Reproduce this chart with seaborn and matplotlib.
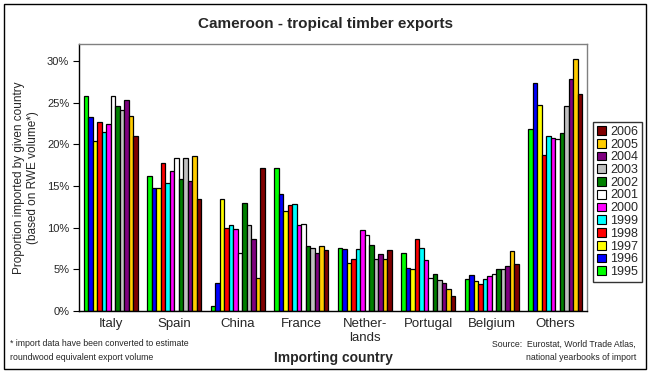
import matplotlib
matplotlib.use("Agg")
import matplotlib.pyplot as plt
import seaborn as sns
import pandas as pd
from matplotlib.patches import Rectangle, Patch

countries = ["Italy", "Spain", "China", "France", "Nether-\nlands", "Portugal", "Belgium", "Others"]
years = ["1995", "1996", "1997", "1998", "1999", "2000", "2001", "2002", "2003", "2004", "2005", "2006"]

# percentage of exports per importing country, one list per year
v1995 = [25.8, 16.2, 0.6, 17.2, 7.6, 7.0, 3.8, 21.8]
v1996 = [23.3, 14.8, 3.4, 14.1, 7.5, 5.2, 4.3, 27.3]
v1997 = [20.4, 14.8, 13.5, 12.0, 5.8, 5.0, 3.6, 24.7]
v1998 = [22.7, 17.8, 10.0, 12.7, 6.2, 8.6, 3.3, 18.7]
v1999 = [21.5, 15.4, 10.3, 12.8, 7.4, 7.6, 3.8, 21.0]
v2000 = [22.4, 16.8, 9.9, 10.3, 9.7, 6.1, 4.2, 20.8]
v2001 = [25.8, 18.4, 7.0, 10.5, 9.1, 4.0, 4.5, 20.6]
v2002 = [24.6, 15.8, 13.0, 7.8, 7.9, 4.4, 5.0, 21.3]
v2003 = [24.1, 18.4, 10.3, 7.6, 6.3, 3.7, 5.0, 24.6]
v2004 = [25.3, 15.6, 8.7, 7.0, 6.8, 3.4, 5.4, 27.8]
v2005 = [23.4, 18.6, 4.0, 7.8, 6.2, 2.7, 7.2, 30.2]
v2006 = [21.0, 13.5, 17.1, 7.3, 7.3, 1.8, 5.7, 26.0]
series = [v1995, v1996, v1997, v1998, v1999, v2000, v2001, v2002, v2003, v2004, v2005, v2006]

colors = ["#00FF00", "#0000FF", "#FFFF00", "#FF0000", "#00FFFF", "#FF00FF",
          "#FFFFFF", "#008000", "#C0C0C0", "#800080", "#FFCC00", "#800000"]

rows = []
for y, vals in zip(years, series):
    for c, v in zip(countries, vals):
        rows.append({"country": c, "year": y, "value": v})
df = pd.DataFrame(rows)

sns.set_theme(style="white")
plt.rcParams["font.family"] = ["Liberation Sans", "DejaVu Sans"]

fig = plt.figure(figsize=(6.51, 3.74), dpi=100)
ax = fig.add_axes([79/651, 1-311/374, (587-79)/651, (311-44)/374])

sns.barplot(data=df, x="country", y="value", hue="year", order=countries,
            hue_order=years, palette=colors, width=0.857, gap=0,
            edgecolor="black", linewidth=0.9, saturation=1, ax=ax, legend=False)

ax.set_ylim(0, 32.04)
ax.set_xlim(-0.5, len(countries)-0.5)
ax.set_yticks([0, 5, 10, 15, 20, 25, 30])
ax.set_yticklabels([f"{t}%" for t in [0, 5, 10, 15, 20, 25, 30]], fontsize=8)
ax.tick_params(axis="y", length=4, width=0.8, color="black", direction="out", pad=3, left=True)
ax.tick_params(axis="x", length=0, labelsize=9.5, pad=5)
ax.set_xlabel("")
ax.set_ylabel("Proportion imported by given country\n(based on RWE volume*)", fontsize=8.5, labelpad=6, linespacing=1.15)
for s in ["left", "bottom"]:
    ax.spines[s].set_color("black")
    ax.spines[s].set_linewidth(1)
for s in ["top", "right"]:
    ax.spines[s].set_color("#808080")
    ax.spines[s].set_linewidth(1)
ax.grid(False)

handles = [Patch(facecolor=col, edgecolor="black", linewidth=0.8, label=y)
           for y, col in zip(years, colors)][::-1]
leg = fig.legend(handles=handles, loc="upper left", bbox_to_anchor=(593/651, 1-122/374),
                 frameon=True, fontsize=9, handlelength=0.7, handleheight=0.7,
                 handletextpad=0.4, labelspacing=0.06, borderpad=0.3,
                 borderaxespad=0, fancybox=False)
leg.get_frame().set_edgecolor("black")
leg.get_frame().set_linewidth(1)

fig.text(325/651, 1-24/374, "Cameroon - tropical timber exports", ha="center", va="center",
         fontsize=11, fontweight="bold")
fig.text(333/651, 1-358/374, "Importing country", ha="center", va="center",
         fontsize=10, fontweight="bold")
fig.text(10/651, 1-344/374, "* import data have been converted to estimate", ha="left", va="center", fontsize=6.3)
fig.text(10/651, 1-357/374, "roundwood equivalent export volume", ha="left", va="center", fontsize=6.3)
fig.text(636/651, 1-344/374, "Source:  Eurostat, World Trade Atlas,", ha="right", va="center", fontsize=6.3)
fig.text(636/651, 1-357/374, "national yearbooks of import", ha="right", va="center", fontsize=6.3)

fig.patches.append(Rectangle((4/651, 1-369/374), 642/651, 365/374, transform=fig.transFigure,
                             fill=False, edgecolor="black", linewidth=1))

fig.savefig("out.png", dpi=100)
